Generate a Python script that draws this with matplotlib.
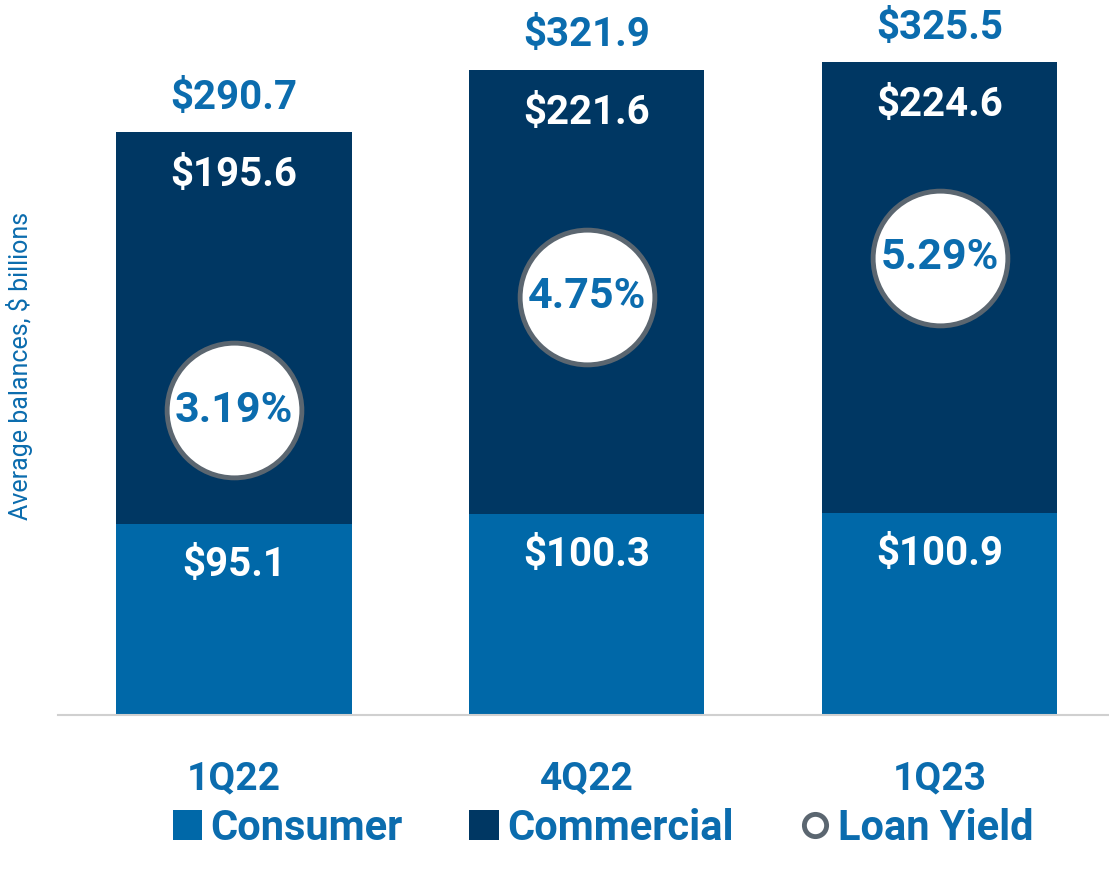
import matplotlib
matplotlib.use("Agg")
import matplotlib.pyplot as plt
from matplotlib.lines import Line2D
from matplotlib.patches import Patch

categories = ["1Q22", "4Q22", "1Q23"]
consumer = [95.1, 100.3, 100.9]
commercial = [195.6, 221.6, 224.6]
totals = [290.7, 321.9, 325.5]
loan_yield = [3.19, 4.75, 5.29]

C_CONS = "#0068A8"
C_COMM = "#003763"
C_TEXT = "#0B6CAE"
C_EDGE = "#5B6670"

plt.rcParams['font.family'] = ['Roboto', 'DejaVu Sans']

fig = plt.figure(figsize=(11.09, 8.71), dpi=100)
ax = fig.add_axes([58/1109, 1-715/871, 1-58/1109, (715-20)/871])
x = list(range(len(categories)))
w = 0.666
ax.bar(x, consumer, w, color=C_CONS, zorder=2)
ax.bar(x, commercial, w, bottom=consumer, color=C_COMM, zorder=2)
ax.set_xlim(-0.4986, 2.479)
ax.set_ylim(0, 346.6)
for s in ["top", "right", "left"]:
    ax.spines[s].set_visible(False)
ax.spines["bottom"].set_color("#D0D0D0")
ax.spines["bottom"].set_linewidth(1.5)
ax.set_yticks([])
ax.set_xticks(x)
ax.set_xticklabels(categories, fontsize=28, fontweight="bold", color=C_TEXT)
ax.tick_params(axis="x", length=0, pad=33)

for i in x:
    ax.text(i, consumer[i] - 20.5, f"${consumer[i]:.1f}",
            ha="center", va="center", color="white", fontsize=29, fontweight="bold", zorder=4)
    ax.text(i, totals[i] - 21.5, f"${commercial[i]:.1f}", ha="center", va="center",
            color="white", fontsize=29, fontweight="bold", zorder=4)
    ax.text(i, totals[i] + 17, f"${totals[i]:.1f}", ha="center", va="center",
            color=C_TEXT, fontsize=29, fontweight="bold", zorder=4)

fig.text(20/1109, 1-366/871, "Average balances, $ billions", rotation=90,
         ha="center", va="center", color=C_TEXT, fontsize=18)

ax2 = ax.twinx()
ax2.set_ylim(-1.017, 8.57)
ax2.axis("off")
ax2.plot(x, loan_yield, linestyle="none", marker="o", markersize=97,
         markerfacecolor="white", markeredgecolor=C_EDGE, markeredgewidth=3.5, zorder=3)
for i in x:
    ax2.text(i, loan_yield[i], f"{loan_yield[i]:.2f}%", ha="center", va="center",
             color=C_TEXT, fontsize=31, fontweight="bold", zorder=5)

handles = [
    Patch(facecolor=C_CONS, edgecolor="none"),
    Patch(facecolor=C_COMM, edgecolor="none"),
    Line2D([], [], linestyle="none", marker="o", markersize=16,
           markerfacecolor="white", markeredgecolor=C_EDGE, markeredgewidth=3.5),
]
leg = fig.legend(handles, ["Consumer", "Commercial", "Loan Yield"], loc="center",
                 bbox_to_anchor=(603/1109, 1-828/871), ncol=3, frameon=False,
                 fontsize=30, handlelength=0.7, handleheight=0.7, handletextpad=0.2,
                 columnspacing=1.6)
for t in leg.get_texts():
    t.set_color(C_TEXT)
    t.set_fontweight("bold")

fig.savefig("out.png", dpi=100)
